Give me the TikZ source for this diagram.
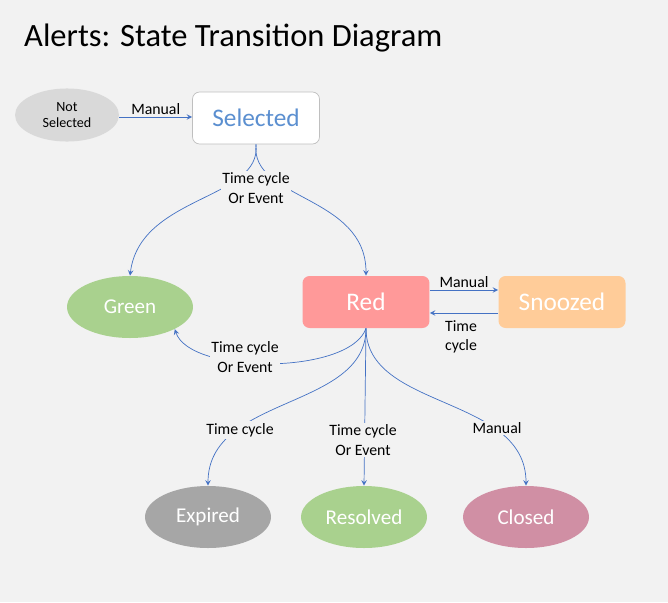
\documentclass[tikz,border=0pt]{standalone}
\usepackage{fontspec}
\setmainfont{Carlito}
\usetikzlibrary{shapes.geometric}
\definecolor{bg}{HTML}{F2F2F2}
\definecolor{arr}{HTML}{4472C4}
\definecolor{selblue}{HTML}{5B8FD0}
\tikzset{
  oval/.style={ellipse, minimum width=2.52cm, minimum height=1.24cm, text=white, font=\large},
  box/.style={rectangle, rounded corners=4pt, minimum width=2.54cm, minimum height=1.04cm},
  link/.style={->, >=stealth, draw=arr, thin},
  lbl/.style={font=\small, align=center, fill=bg, inner sep=1pt}
}
\begin{document}
\begin{tikzpicture}[x=0.02cm, y=-0.02cm]
\fill[bg] (0,0) rectangle (668,602);
\useasboundingbox (0,0) rectangle (668,602);

\node[anchor=west, font=\fontsize{18.5}{22}\selectfont] (title) at (18,38) {Alerts: State Transition Diagram};

\node[ellipse, fill=gray!30, minimum width=2.08cm, minimum height=1.04cm, font=\footnotesize, align=center] (ns) at (67,115) {Not\\Selected};
\node[box, fill=white, draw=gray!50, text=selblue, font=\Large] (sel) at (256,118) {Selected};
\node[oval, fill={rgb,255:red,169;green,209;blue,142}] (green) at (130,307) {Green};
\node[box, fill={rgb,255:red,255;green,153;blue,153}, text=white, font=\Large] (red) at (366,302) {Red};
\node[box, fill={rgb,255:red,255;green,204;blue,153}, text=white, font=\Large] (snz) at (562,302) {Snoozed};
\node[oval, fill={rgb,255:red,166;green,166;blue,166}] (exp) at (208,517) {Expired};
\node[oval, fill={rgb,255:red,169;green,209;blue,142}] (res) at (364,517) {Resolved};
\node[oval, fill={rgb,255:red,208;green,143;blue,164}] (cls) at (526,517) {Closed};

% links
\draw[link] (ns.east) ++(0,2) -- node[lbl, above, fill=none] {Manual} (sel.west |- 0,117);
\draw[link] (sel.south) .. controls (262,200) and (140,195) .. (green.north);
\draw[link] (sel.south) .. controls (250,200) and (366,195) .. (red.north);
\node[lbl] (l1) at (256,188) {Time cycle\\Or Event};

\draw[link] ([yshift=0.24cm]red.east) -- node[lbl, above, fill=none] {Manual} ([yshift=0.24cm]snz.west);
\draw[link] ([yshift=-0.22cm]snz.west) -- ([yshift=-0.22cm]red.east);
\node[lbl, fill=none] (l2) at (461,337) {Time\\cycle};

\draw[link] (red.south) .. controls (350,375) and (190,375) .. (green.south east);
\node[lbl] (l3) at (245,357) {Time cycle\\Or Event};

\draw[link] (red.south) .. controls (366,410) and (208,395) .. (exp.north);
\node[lbl] (l4) at (240,430) {Time cycle};
\draw[link] (red.south) -- (res.north);
\node[lbl] (l5) at (363,440) {Time cycle\\Or Event};
\draw[link] (red.south) .. controls (366,410) and (526,395) .. (cls.north);
\node[lbl] (l6) at (497,428) {Manual};
\end{tikzpicture}
\end{document}
